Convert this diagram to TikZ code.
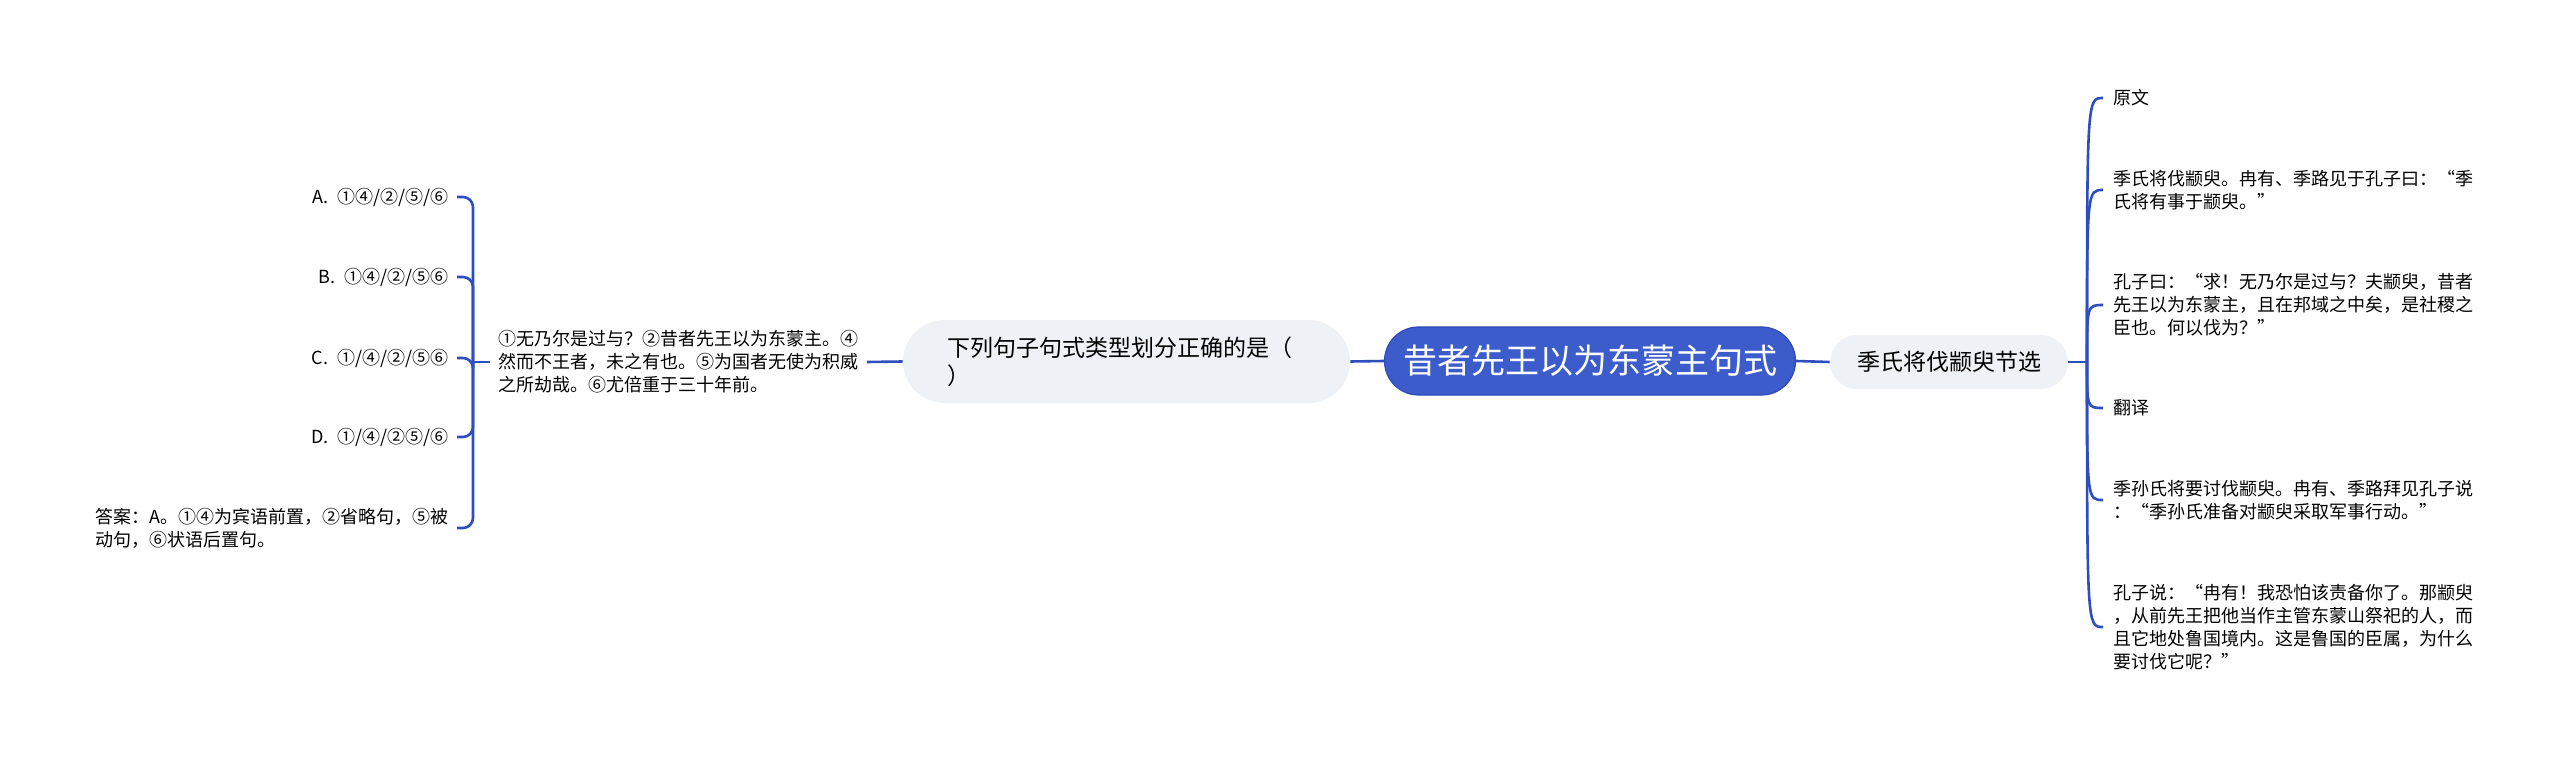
\documentclass[tikz,border=0pt]{standalone}
\usepackage{fontspec}
\setmainfont{Noto Sans CJK SC}
\usepackage{tikz}
\usetikzlibrary{positioning}

\definecolor{mainblue}{RGB}{60,92,204}
\definecolor{mainedge}{RGB}{46,74,180}
\definecolor{linkblue}{RGB}{46,78,190}
\definecolor{pillgray}{RGB}{238,241,245}

\begin{document}
\begin{tikzpicture}[x=0.5pt,y=-0.5pt,
	link/.style={draw=linkblue,line width=1.3pt},
	leaf/.style={inner xsep=4pt,inner ysep=2pt,align=left,font=\fontsize{9}{11.5}\selectfont},
	rleaf/.style={leaf,inner xsep=5pt,anchor=west},
	pill/.style={fill=pillgray,inner sep=0pt,font=\fontsize{11.5}{14}\selectfont}]
	
	% Frame
	\useasboundingbox (0,0) rectangle (2560,759);
	
	% Central topic
	\node[fill=mainblue,draw=mainedge,line width=0.6pt,rounded corners=17pt,minimum width=205.5pt,minimum height=34pt,inner sep=0pt,text=white,font=\fontsize{17}{20}\selectfont] (root) at (1590,361) {昔者先王以为东蒙主句式};
	
	% Left branch
	\node[pill,rounded corners=20.75pt,minimum height=41.5pt,text width=179.5pt,inner xsep=22pt,align=left] (q) at (1126.5,361.5) {下列句子句式类型划分正确的是（\\）};
	\node[leaf,anchor=west] (qt) at (490,362) {①无乃尔是过与？②昔者先王以为东蒙主。④\\然而不王者，未之有也。⑤为国者无使为积威\\之所劫哉。⑥尤倍重于三十年前。};
	
	% Options
	\node[leaf,anchor=east] (oa) at (457,197) {A.\enspace ①④/②/⑤/⑥};
	\node[leaf,anchor=east] (ob) at (457,277) {B.\enspace ①④/②/⑤⑥};
	\node[leaf,anchor=east] (oc) at (457,358) {C.\enspace ①/④/②/⑤⑥};
	\node[leaf,anchor=east] (od) at (457,437) {D.\enspace ①/④/②⑤/⑥};
	\node[leaf,anchor=east] (ans) at (457,528) {答案：A。①④为宾语前置，②省略句，⑤被\\动句，⑥状语后置句。};
	
	% Right branch
	\node[pill,rounded corners=13.5pt,minimum width=119pt,minimum height=27pt] (src) at (1949,362) {季氏将伐颛臾节选};
	\node[rleaf] (r1) at (2103,98) {原文};
	\node[rleaf] (r2) at (2103,190) {季氏将伐颛臾。冉有、季路见于孔子曰：“季\\氏将有事于颛臾。”};
	\node[rleaf] (r3) at (2103,305) {孔子曰：“求！无乃尔是过与？夫颛臾，昔者\\先王以为东蒙主，且在邦域之中矣，是社稷之\\臣也。何以伐为？”};
	\node[rleaf] (r4) at (2103,408) {翻译};
	\node[rleaf] (r5) at (2103,500) {季孙氏将要讨伐颛臾。冉有、季路拜见孔子说\\：“季孙氏准备对颛臾采取军事行动。”};
	\node[rleaf] (r6) at (2103,627) {孔子说：“冉有！我恐怕该责备你了。那颛臾\\，从前先王把他当作主管东蒙山祭祀的人，而\\且它地处鲁国境内。这是鲁国的臣属，为什么\\要讨伐它呢？”};
	
	% Main links
	\draw[link] (root.west) -- (q.east);
	\draw[link] (q.west) -- (qt.east);
	\draw[link] (root.east) -- (src.west);
	
	% Left bracket
	\coordinate (lb) at (473,362);
	\draw[link] (qt.west) -- (lb);
	\foreach \o in {oa,ob,oc,od,ans}
		\draw[link,rounded corners=5pt] (lb) |- (\o.east);
	
	% Right fan
	\coordinate (rb) at (2087,362);
	\draw[link] (src.east) -- (rb);
	\foreach \r in {r1,r2,r3,r4,r5,r6}
		\draw[link] (rb) .. controls (rb |- \r.west) .. (\r.west);
	
\end{tikzpicture}
\end{document}
